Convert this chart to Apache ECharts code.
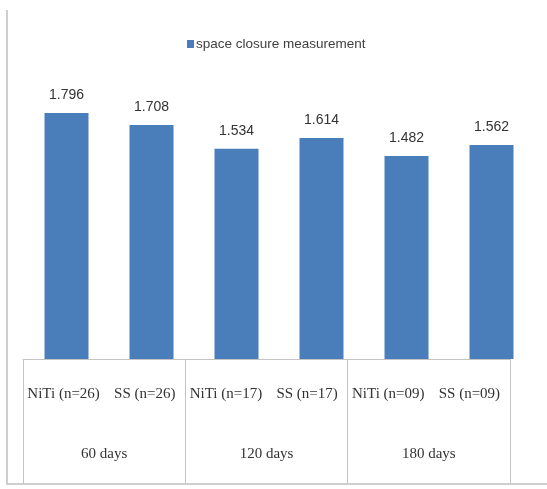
<!DOCTYPE html>
<html>
<head>
<meta charset="utf-8">
<script src="https://cdn.jsdelivr.net/npm/echarts@6/dist/echarts.min.js"></script>
<style>
  html, body { margin: 0; padding: 0; background: #ffffff; }
  #chart { width: 547px; height: 489px; }
</style>
</head>
<body>
<div id="chart"></div>
<script>
// Space closure by wire type and interval
const seriesName = 'space closure measurement';
const categories = ['NiTi (n=26)', 'SS (n=26)', 'NiTi (n=17)', 'SS (n=17)', 'NiTi (n=09)', 'SS (n=09)'];
const groups = ['60 days', '120 days', '180 days'];
const values = [1.796, 1.708, 1.534, 1.614, 1.482, 1.562];

const chart = echarts.init(document.getElementById('chart'), null, { renderer: 'canvas' });

const gridLine = '#c4c4c4';
const textDark = '#333333';
const sansFont = 'Liberation Sans, Arial, sans-serif';
const serifFont = 'Liberation Serif, Times New Roman, serif';

chart.setOption({
  animation: false,
  backgroundColor: '#ffffff',
  legend: {
    top: 32,
    left: 182,
    itemWidth: 7,
    itemHeight: 8,
    itemGap: 2,
    icon: 'rect',
    textStyle: { fontFamily: sansFont, fontSize: 13.5, color: '#404040', padding: [0, 0, 0, -3] },
    data: [seriesName]
  },
  graphic: [{
    type: 'polyline',
    shape: { points: [[7, 10], [7, 484], [547, 484]] },
    style: { stroke: '#cfcfcf', lineWidth: 2, fill: null },
    silent: true
  }],
  grid: [
    { left: 24, right: 13, top: 85, bottom: 130 },
    { left: 23, right: 37, top: 359, bottom: 5 }
  ],
  xAxis: [
    {
      gridIndex: 0, type: 'category', data: categories,
      axisLine: { show: false }, axisTick: { show: false }, axisLabel: { show: false }
    },
    {
      gridIndex: 1, type: 'category', data: categories, position: 'top',
      axisLine: { show: true, onZero: false, lineStyle: { color: gridLine, width: 1 } },
      axisTick: { show: false },
      axisLabel: {
        inside: true, margin: 28, interval: 0,
        fontFamily: serifFont, fontSize: 15, color: textDark
      }
    },
    {
      gridIndex: 1, type: 'category', data: groups, position: 'bottom',
      axisLine: { show: false, onZero: false },
      axisTick: { show: true, inside: true, length: 125, lineStyle: { color: gridLine, width: 1 } },
      axisLabel: {
        inside: true, margin: 22, interval: 0,
        fontFamily: serifFont, fontSize: 15, color: textDark
      }
    }
  ],
  yAxis: [
    { gridIndex: 0, type: 'value', min: 0, max: 2, show: false },
    { gridIndex: 1, type: 'value', min: 0, max: 1, show: false }
  ],
  series: [{
    name: seriesName,
    type: 'bar',
    xAxisIndex: 0,
    yAxisIndex: 0,
    data: values,
    barWidth: 44,
    itemStyle: { color: '#4a7ebb' },
    label: {
      show: true,
      position: 'top',
      distance: 11,
      formatter: p => p.value.toFixed(3),
      fontFamily: sansFont,
      fontSize: 14,
      color: textDark
    }
  }]
});
</script>
</body>
</html>
